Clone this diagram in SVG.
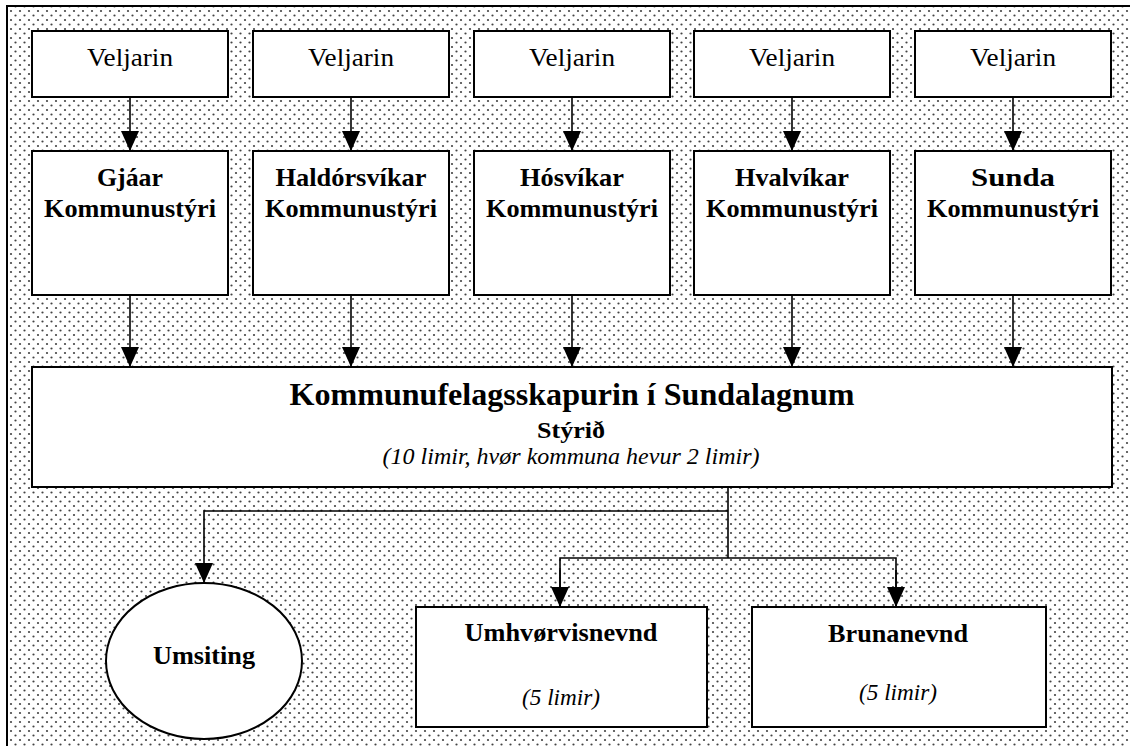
<svg xmlns="http://www.w3.org/2000/svg" width="1130" height="746" viewBox="0 0 1130 746">
<defs>
<pattern id="dots" patternUnits="userSpaceOnUse" width="9" height="9">
<rect width="9" height="9" fill="#ffffff"/>
<circle cx="2" cy="2" r="1.1" fill="#444"/>
<circle cx="6.5" cy="6.5" r="1.1" fill="#444"/>
</pattern>
<marker id="arr" markerUnits="userSpaceOnUse" viewBox="0 0 20 18" refX="20" refY="9" markerWidth="20" markerHeight="18" orient="auto">
<path d="M0,0 L20,9 L0,18 Z" fill="#000"/>
</marker>
</defs>
<style>
.box{fill:#fff;stroke:#000;stroke-width:2}
.ln{fill:none;stroke:#000;stroke-width:1.6}
text{font-family:'Liberation Serif','Times New Roman',Times,serif;text-anchor:middle;fill:#000}
.r{font-size:26px}
.b{font-size:26px;font-weight:bold}
.i{font-size:23px;font-style:italic}
</style>
<rect id="background" x="7" y="6" width="1140" height="800" fill="url(#dots)" stroke="#000" stroke-width="2"/>

<g id="veljarin1"><rect class="box" x="32" y="31" width="196" height="66"/><text class="r" x="130" y="66" textLength="86" lengthAdjust="spacingAndGlyphs">Veljarin</text></g>
<g id="veljarin2"><rect class="box" x="253" y="31" width="196" height="66"/><text class="r" x="351" y="66" textLength="86" lengthAdjust="spacingAndGlyphs">Veljarin</text></g>
<g id="veljarin3"><rect class="box" x="474" y="31" width="196" height="66"/><text class="r" x="572" y="66" textLength="86" lengthAdjust="spacingAndGlyphs">Veljarin</text></g>
<g id="veljarin4"><rect class="box" x="694" y="31" width="196" height="66"/><text class="r" x="792" y="66" textLength="86" lengthAdjust="spacingAndGlyphs">Veljarin</text></g>
<g id="veljarin5"><rect class="box" x="915" y="31" width="196" height="66"/><text class="r" x="1013" y="66" textLength="86" lengthAdjust="spacingAndGlyphs">Veljarin</text></g>

<g id="gjaar"><rect class="box" x="32" y="151" width="196" height="144"/><text class="b" x="130" y="186" textLength="66" lengthAdjust="spacingAndGlyphs">Gjáar</text><text class="b" x="130" y="217" textLength="172" lengthAdjust="spacingAndGlyphs">Kommunustýri</text></g>
<g id="haldorsvik"><rect class="box" x="253" y="151" width="196" height="144"/><text class="b" x="351" y="186" textLength="151" lengthAdjust="spacingAndGlyphs">Haldórsvíkar</text><text class="b" x="351" y="217" textLength="172" lengthAdjust="spacingAndGlyphs">Kommunustýri</text></g>
<g id="hosvik"><rect class="box" x="474" y="151" width="196" height="144"/><text class="b" x="572" y="186" textLength="104" lengthAdjust="spacingAndGlyphs">Hósvíkar</text><text class="b" x="572" y="217" textLength="172" lengthAdjust="spacingAndGlyphs">Kommunustýri</text></g>
<g id="hvalvik"><rect class="box" x="694" y="151" width="196" height="144"/><text class="b" x="792" y="186" textLength="114" lengthAdjust="spacingAndGlyphs">Hvalvíkar</text><text class="b" x="792" y="217" textLength="172" lengthAdjust="spacingAndGlyphs">Kommunustýri</text></g>
<g id="sunda"><rect class="box" x="915" y="151" width="196" height="144"/><text class="b" x="1013" y="186" textLength="84" lengthAdjust="spacingAndGlyphs">Sunda</text><text class="b" x="1013" y="217" textLength="172" lengthAdjust="spacingAndGlyphs">Kommunustýri</text></g>

<g id="styrid"><rect class="box" x="32" y="367" width="1080" height="120"/>
<text class="b" x="572" y="405" style="font-size:31px" textLength="565" lengthAdjust="spacingAndGlyphs">Kommunufelagsskapurin í Sundalagnum</text>
<text class="b" x="571" y="438" style="font-size:24px" textLength="68" lengthAdjust="spacingAndGlyphs">Stýrið</text>
<text class="i" x="571" y="464" textLength="377" lengthAdjust="spacingAndGlyphs">(10 limir, hvør kommuna hevur 2 limir)</text></g>

<g id="umsiting"><ellipse class="box" cx="204" cy="661" rx="98" ry="78"/><text class="b" x="204" y="664" textLength="102" lengthAdjust="spacingAndGlyphs">Umsiting</text></g>
<g id="umhvorvisnevnd"><rect class="box" x="416" y="607" width="291" height="120"/><text class="b" x="561" y="641" textLength="193" lengthAdjust="spacingAndGlyphs">Umhvørvisnevnd</text><text class="i" x="561" y="705" textLength="78" lengthAdjust="spacingAndGlyphs">(5 limir)</text></g>
<g id="brunanevnd"><rect class="box" x="752" y="607" width="294" height="120"/><text class="b" x="898" y="642" textLength="140" lengthAdjust="spacingAndGlyphs">Brunanevnd</text><text class="i" x="898" y="700" textLength="78" lengthAdjust="spacingAndGlyphs">(5 limir)</text></g>

<g id="connectors">
<line class="ln" x1="130" y1="97" x2="130" y2="151" marker-end="url(#arr)"/>
<line class="ln" x1="351" y1="97" x2="351" y2="151" marker-end="url(#arr)"/>
<line class="ln" x1="572" y1="97" x2="572" y2="151" marker-end="url(#arr)"/>
<line class="ln" x1="792" y1="97" x2="792" y2="151" marker-end="url(#arr)"/>
<line class="ln" x1="1013" y1="97" x2="1013" y2="151" marker-end="url(#arr)"/>
<line class="ln" x1="130" y1="295" x2="130" y2="367" marker-end="url(#arr)"/>
<line class="ln" x1="351" y1="295" x2="351" y2="367" marker-end="url(#arr)"/>
<line class="ln" x1="572" y1="295" x2="572" y2="367" marker-end="url(#arr)"/>
<line class="ln" x1="792" y1="295" x2="792" y2="367" marker-end="url(#arr)"/>
<line class="ln" x1="1013" y1="295" x2="1013" y2="367" marker-end="url(#arr)"/>
<line class="ln" x1="728" y1="487" x2="728" y2="558"/>
<polyline class="ln" points="728,511 204,511 204,583" marker-end="url(#arr)"/>
<polyline class="ln" points="560,607 560,558 896,558 896,607"/>
<line class="ln" x1="560" y1="570" x2="560" y2="607" marker-end="url(#arr)"/>
<line class="ln" x1="896" y1="570" x2="896" y2="607" marker-end="url(#arr)"/>
</g>
</svg>
